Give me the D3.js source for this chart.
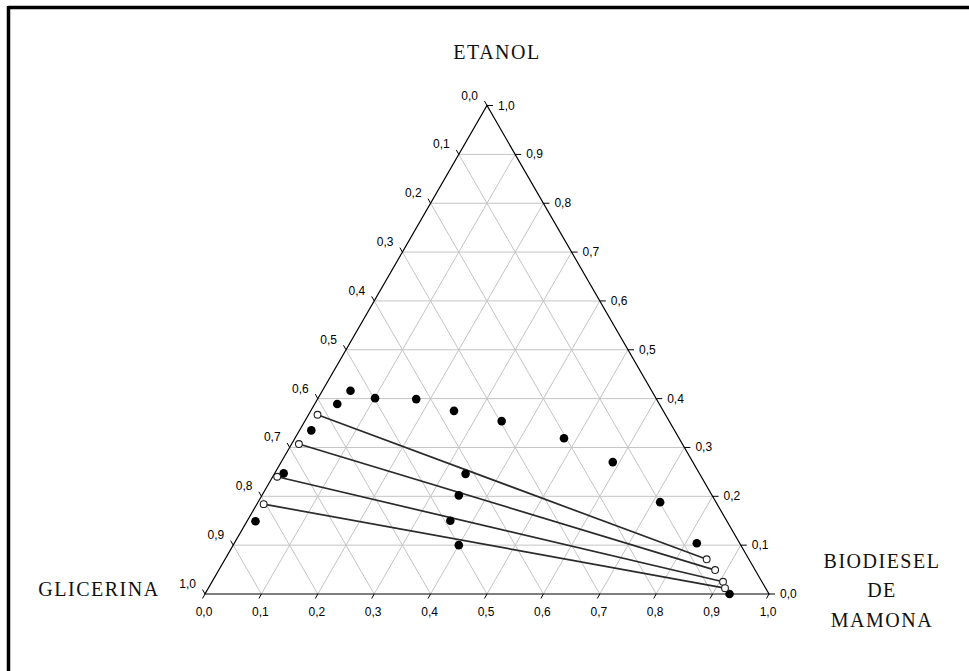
<!DOCTYPE html>
<html>
<head>
<meta charset="utf-8">
<script src="https://cdn.jsdelivr.net/npm/d3@7"></script>
<style>
  html, body { margin: 0; padding: 0; background: #fff; }
  svg { display: block; }
</style>
</head>
<body>
<svg id="chart" width="969" height="671"></svg>
<script>
// ---- Data (mass fractions) ----
const tickValues = [0, 0.1, 0.2, 0.3, 0.4, 0.5, 0.6, 0.7, 0.8, 0.9, 1.0];
const tickLabels = ["0,0", "0,1", "0,2", "0,3", "0,4", "0,5", "0,6", "0,7", "0,8", "0,9", "1,0"];

// Binodal curve (solubility points)
const binodalBiodiesel = [0.050, 0.040, 0.101, 0.175, 0.254, 0.349, 0.477, 0.588, 0.713, 0.820, 0.930, 0.021, 0.016, 0.015];
const binodalEtanol    = [0.416, 0.389, 0.401, 0.399, 0.375, 0.354, 0.319, 0.270, 0.188, 0.104, 0.000, 0.335, 0.247, 0.149];
const binodalGlicerina = [0.534, 0.571, 0.498, 0.426, 0.371, 0.297, 0.204, 0.142, 0.099, 0.076, 0.070, 0.644, 0.737, 0.836];

// Overall (feed) compositions of the tie-line experiments
const feedBiodiesel = [0.339, 0.349, 0.360, 0.400];
const feedEtanol    = [0.246, 0.202, 0.150, 0.100];
const feedGlicerina = [0.415, 0.449, 0.490, 0.500];

// Tie lines: glycerin-rich phase
const glyPhaseBiodiesel = [0.016, 0.013, 0.008, 0.012];
const glyPhaseEtanol    = [0.367, 0.307, 0.240, 0.184];
const glyPhaseGlicerina = [0.617, 0.680, 0.752, 0.804];

// Tie lines: biodiesel-rich phase
const bioPhaseBiodiesel = [0.854, 0.880, 0.906, 0.916];
const bioPhaseEtanol    = [0.071, 0.049, 0.025, 0.012];
const bioPhaseGlicerina = [0.075, 0.071, 0.069, 0.072];

// ---- Layout ----
const svg = d3.select("#chart");
const left = 205, right = 769, baseY = 594;
const apexY = baseY - (right - left) * Math.sqrt(3) / 2;

const x = d3.scaleLinear().domain([0, 1]).range([left, right]);
const y = d3.scaleLinear().domain([0, 1]).range([baseY, apexY]);

// ternary position from biodiesel (b) and ethanol (e) fractions
const P = (b, e) => [x(b + e / 2), y(e)];

// Frame (top and left edges)
svg.append("line").attr("x1", 8.5).attr("y1", 7.5).attr("x2", 969).attr("y2", 7.5)
  .attr("stroke", "#000").attr("stroke-width", 3.5);
svg.append("line").attr("x1", 8.5).attr("y1", 6).attr("x2", 8.5).attr("y2", 671)
  .attr("stroke", "#000").attr("stroke-width", 3.5);

// Grid
const grid = svg.append("g").attr("stroke", "#c4c4c4").attr("stroke-width", 1).attr("fill", "none");
tickValues.slice(1, -1).forEach(v => {
  const segs = [
    [P(0, v), P(1 - v, v)],        // constant ethanol
    [P(v, 0), P(v, 1 - v)],        // constant biodiesel
    [P(0, 1 - v), P(1 - v, 0)]     // constant glycerin
  ];
  segs.forEach(([a, c]) => {
    grid.append("line").attr("x1", a[0]).attr("y1", a[1]).attr("x2", c[0]).attr("y2", c[1]);
  });
});

// Triangle edges
const tri = [P(0, 0), P(1, 0), P(0, 1)];
svg.append("path")
  .attr("d", d3.line()(tri) + "Z")
  .attr("fill", "none").attr("stroke", "#000").attr("stroke-width", 1.2);

// Ticks and tick labels
const ticks = svg.append("g").attr("stroke", "#000").attr("stroke-width", 1);
const labels = svg.append("g")
  .attr("font-family", "'Liberation Sans', Arial, sans-serif")
  .attr("font-size", 12).attr("fill", "#000");

tickValues.forEach((t, i) => {
  // bottom axis: biodiesel
  const pb = P(t, 0);
  ticks.append("line").attr("x1", pb[0]).attr("y1", pb[1]).attr("x2", pb[0] - 2.5).attr("y2", pb[1] + 4.5);
  labels.append("text").attr("x", pb[0] - 1).attr("y", pb[1] + 22)
    .attr("text-anchor", "middle").text(tickLabels[i]);

  // right axis: ethanol
  const pe = P(1 - t, t);
  ticks.append("line").attr("x1", pe[0]).attr("y1", pe[1]).attr("x2", pe[0] + 6).attr("y2", pe[1]);
  labels.append("text").attr("x", pe[0] + 11).attr("y", pe[1] + 4)
    .attr("text-anchor", "start").text(tickLabels[i]);

  // left axis: glycerin
  const pg = P(0, 1 - t);
  ticks.append("line").attr("x1", pg[0]).attr("y1", pg[1]).attr("x2", pg[0] - 2.5).attr("y2", pg[1] - 4.5);
  labels.append("text").attr("x", pg[0] - 9).attr("y", pg[1] - 6)
    .attr("text-anchor", "end").text(tickLabels[i]);
});

// Tie lines
const tieG = svg.append("g");
glyPhaseBiodiesel.forEach((_, i) => {
  const a = P(glyPhaseBiodiesel[i], glyPhaseEtanol[i]);
  const c = P(bioPhaseBiodiesel[i], bioPhaseEtanol[i]);
  tieG.append("line").attr("x1", a[0]).attr("y1", a[1]).attr("x2", c[0]).attr("y2", c[1])
    .attr("stroke", "#2a2a2a").attr("stroke-width", 1.7);
});

// Binodal points
svg.append("g").selectAll("circle")
  .data(binodalBiodiesel.map((b, i) => P(b, binodalEtanol[i])))
  .join("circle")
  .attr("cx", d => d[0]).attr("cy", d => d[1]).attr("r", 4.3).attr("fill", "#000");

// Feed points
svg.append("g").selectAll("circle")
  .data(feedBiodiesel.map((b, i) => P(b, feedEtanol[i])))
  .join("circle")
  .attr("cx", d => d[0]).attr("cy", d => d[1]).attr("r", 4.3).attr("fill", "#000");

// Tie-line end points (open markers)
const ends = glyPhaseBiodiesel.map((b, i) => P(b, glyPhaseEtanol[i]))
  .concat(bioPhaseBiodiesel.map((b, i) => P(b, bioPhaseEtanol[i])));
svg.append("g").selectAll("circle")
  .data(ends)
  .join("circle")
  .attr("cx", d => d[0]).attr("cy", d => d[1]).attr("r", 3.4)
  .attr("fill", "#fff").attr("stroke", "#222").attr("stroke-width", 1.1);

// Component names
const names = svg.append("g")
  .attr("font-family", "'Liberation Serif', 'Times New Roman', serif")
  .attr("font-size", 20).attr("letter-spacing", 1.5).attr("fill", "#111");
names.append("text").attr("x", 497).attr("y", 59).attr("text-anchor", "middle").text("ETANOL");
names.append("text").attr("x", 99).attr("y", 596).attr("text-anchor", "middle").text("GLICERINA");
names.append("text").attr("x", 882).attr("y", 568).attr("text-anchor", "middle").text("BIODIESEL");
names.append("text").attr("x", 882).attr("y", 597).attr("text-anchor", "middle").text("DE");
names.append("text").attr("x", 882).attr("y", 627).attr("text-anchor", "middle").text("MAMONA");
</script>
</body>
</html>
